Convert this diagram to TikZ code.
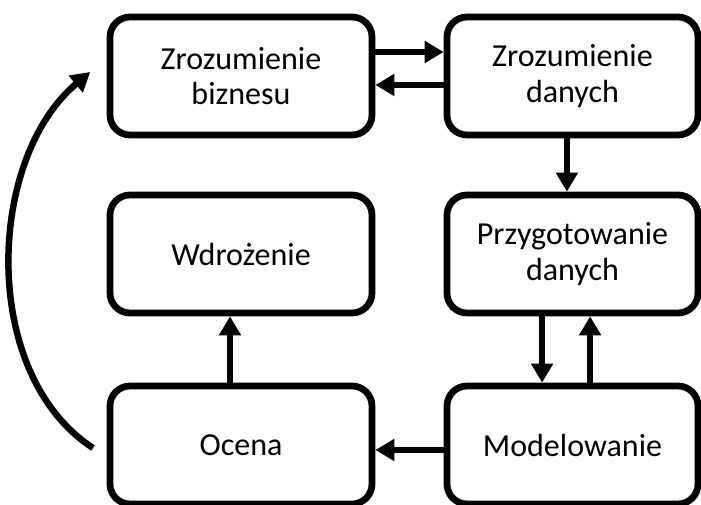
\documentclass[tikz,border=0pt]{standalone}
\usepackage{fontspec}
\setmainfont{Carlito}
\usetikzlibrary{positioning,arrows.meta}

\begin{document}
\begin{tikzpicture}[box/.style={draw, rounded corners=0.5cm, line width=4.8pt, minimum height=2.95cm, align=center, font=\fontsize{22.8}{25.3}\selectfont},
    lbox/.style={box, minimum width=6.55cm},
    rbox/.style={box, minimum width=6.275cm},
    arr/.style={line width=4.6pt, -{Triangle[length=13.5pt, width=15pt]}},
    node distance=4.45cm]
    \useasboundingbox (0,0) rectangle (17.525,12.625);
    \node (biz) [lbox] at (6.025,10.725) {Zrozumienie\\biznesu};
    \node (dan) [rbox, right of = biz, xshift=3.8375cm] {Zrozumienie\\danych};
    \node (wdr) [lbox, below of = biz] {Wdrożenie};
    \node (prep) [rbox, below of = dan] {Przygotowanie\\danych};
    \node (oce) [lbox, below of = wdr, yshift=-0.325cm] {Ocena};
    \node (mod) [rbox, below of = prep, yshift=-0.325cm] {Modelowanie};
    \draw[arr] ([yshift=0.6cm]biz.east) -- ([yshift=0.6cm]dan.west);
    \draw[arr] ([yshift=-0.225cm]dan.west) -- ([yshift=-0.225cm]biz.east);
    \draw[arr] ([xshift=-0.14cm]dan.south) -- ([xshift=-0.14cm]prep.north);
    \draw[arr] ([xshift=-0.76cm]prep.south) -- ([xshift=-0.76cm]mod.north);
    \draw[arr] ([xshift=0.44cm]mod.north) -- ([xshift=0.44cm]prep.south);
    \draw[arr] ([yshift=-0.125cm]mod.west) -- ([yshift=-0.125cm]oce.east);
    \draw[arr] ([xshift=-0.275cm]oce.north) -- ([xshift=-0.275cm]wdr.south);
    \draw[arr] ([xshift=-0.34cm, yshift=-0.075cm]oce.west) to[out=147, in=220, looseness=0.92] ([xshift=-0.41cm, yshift=0.1cm]biz.west);
\end{tikzpicture}
\end{document}
